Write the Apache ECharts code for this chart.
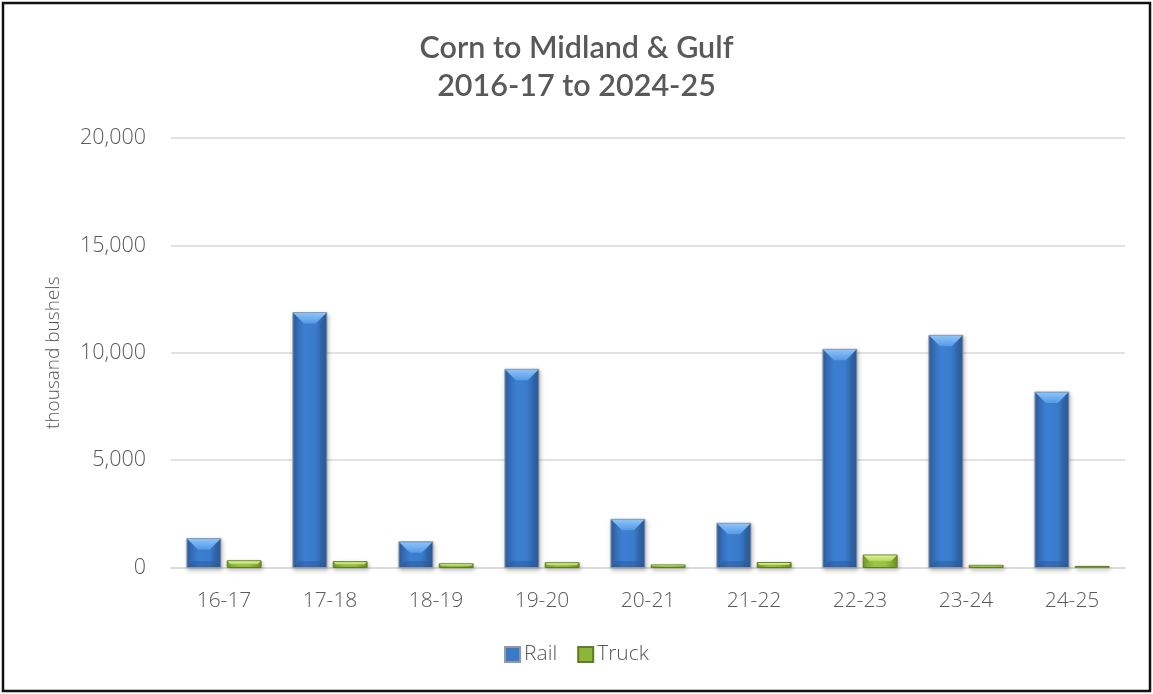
<!DOCTYPE html>
<html>
<head>
<meta charset="utf-8">
<title>Corn to Midland &amp; Gulf</title>
<script src="https://cdn.jsdelivr.net/npm/echarts@6/dist/echarts.min.js"></script>
<style>
  html, body { margin: 0; padding: 0; background: #fff; }
  #chart { width: 1153px; height: 694px; }
</style>
</head>
<body>
<div id="chart"></div>
<script>
// Marketing years and shipments (thousand bushels)
const years = ['16-17', '17-18', '18-19', '19-20', '20-21', '21-22', '22-23', '23-24', '24-25'];
const rail  = [1350, 11870, 1200, 9230, 2245, 2060, 10160, 10810, 8170];
const truck = [310, 270, 170, 220, 120, 230, 580, 100, 50];
const yTicks = [0, 5000, 10000, 15000, 20000];

const FONT = '"Open Sans", Lato, sans-serif';
const TITLE_FONT = 'Lato, "Open Sans", sans-serif';
const TEXT = '#595959';

// Bevelled bar palettes
const palettes = {
  Rail: {
    legend: '#3A78C8',
    body: ['#2E60A2', '#3C7FD2', '#3A7BCC', '#2B5892'],
    top: ['#8CC4FA', '#5598E2'],
    side: '#2D5C9A',
    bottom: '#254E86',
    border: '#8E99A6'
  },
  Truck: {
    legend: '#8DB53A',
    body: ['#7AA02E', '#9EC646', '#9AC242', '#70942A'],
    top: ['#DDF296', '#B2D658'],
    side: '#7A9E30',
    bottom: '#678A24',
    border: '#5F7D22'
  }
};

function bevelBar(name, offsetFrac) {
  const pal = palettes[name];
  return function (params, api) {
    const idx = api.value(0);
    const val = api.value(1);
    const band = api.size([1, 0])[0];
    const w = band * 0.32;
    const base = api.coord([idx, 0]);
    const topPt = api.coord([idx, val]);
    const cx = base[0] + band * offsetFrac;
    const x0 = cx - w / 2, x1 = cx + w / 2;
    const y0 = topPt[1], y1 = base[1];
    const h = y1 - y0;
    const d = Math.max(0.8, Math.min(11, h / 2, w / 2));
    const children = [
      {
        type: 'rect',
        shape: { x: x0, y: y0, width: w, height: h },
        style: {
          fill: new echarts.graphic.LinearGradient(0, 0, 1, 0, [
            { offset: 0, color: pal.body[0] },
            { offset: 0.35, color: pal.body[1] },
            { offset: 0.65, color: pal.body[2] },
            { offset: 1, color: pal.body[3] }
          ]),
          stroke: pal.border,
          lineWidth: 1,
          shadowBlur: 4,
          shadowOffsetX: 1,
          shadowOffsetY: 2,
          shadowColor: 'rgba(0,0,0,0.25)'
        }
      },
      {
        type: 'polygon',
        shape: { points: [[x0 + 0.5, y0 + 0.5], [x1 - 0.5, y0 + 0.5], [x1 - d, y0 + d], [x0 + d, y0 + d]] },
        style: {
          fill: new echarts.graphic.LinearGradient(0, 0, 0, 1, [
            { offset: 0, color: pal.top[0] },
            { offset: 1, color: pal.top[1] }
          ])
        }
      }
    ];
    if (h > 2 * d + 2) {
      const dd = d * 0.6;
      children.push({
        type: 'polygon',
        shape: { points: [[x0 + 0.5, y1 - 0.5], [x1 - 0.5, y1 - 0.5], [x1 - dd, y1 - dd], [x0 + dd, y1 - dd]] },
        style: { fill: pal.bottom, opacity: 0.35 }
      });
      children.push({
        type: 'polygon',
        shape: { points: [[x1 - 0.5, y0 + 0.5], [x1 - 0.5, y1 - 0.5], [x1 - dd, y1 - dd], [x1 - dd, y0 + d]] },
        style: { fill: pal.side, opacity: 0.4 }
      });
    }
    return { type: 'group', children: children };
  };
}

function series(name, values, offsetFrac) {
  return {
    name: name,
    type: 'custom',
    renderItem: bevelBar(name, offsetFrac),
    itemStyle: { color: palettes[name].legend, borderColor: palettes[name].border, borderWidth: 1 },
    encode: { x: 0, y: 1 },
    data: values.map((v, i) => [i, v])
  };
}

const chart = echarts.init(document.getElementById('chart'), null, { renderer: 'canvas' });
chart.setOption({
  backgroundColor: '#fff',
  animation: false,
  title: {
    text: 'Corn to Midland & Gulf\n2016-17 to 2024-25',
    left: 'center',
    top: 24,
    textStyle: { fontFamily: TITLE_FONT, fontSize: 30.5, fontWeight: 600, color: TEXT, lineHeight: 38 }
  },
  graphic: [{
    type: 'rect',
    shape: { x: 3, y: 3, width: 1147, height: 688 },
    style: { fill: 'none', stroke: '#111', lineWidth: 2.5 },
    z: 100
  }],
  legend: {
    bottom: 24,
    left: 'center',
    itemWidth: 15,
    itemHeight: 15,
    itemGap: 20,
    icon: 'rect',
    textStyle: { fontFamily: FONT, fontSize: 21, fontWeight: 300, color: TEXT, padding: [0, 0, 0, -1] },
    data: ['Rail', 'Truck']
  },
  grid: { left: 171, right: 28, top: 138, bottom: 126.5, containLabel: false },
  xAxis: {
    type: 'category',
    data: years,
    axisLine: { lineStyle: { color: '#D9D9D9', width: 1.5 } },
    axisTick: { show: false },
    axisLabel: { fontFamily: FONT, fontSize: 21, fontWeight: 300, color: TEXT, margin: 23 }
  },
  yAxis: {
    type: 'value',
    min: yTicks[0],
    max: yTicks[yTicks.length - 1],
    interval: yTicks[1] - yTicks[0],
    name: 'thousand bushels',
    nameLocation: 'middle',
    nameGap: 108,
    nameTextStyle: { fontFamily: FONT, fontSize: 19, fontWeight: 300, color: TEXT },
    axisLine: { show: false },
    axisTick: { show: false },
    splitLine: { lineStyle: { color: '#D9D9D9', width: 1.5 } },
    axisLabel: {
      fontFamily: FONT, fontSize: 21.5, fontWeight: 300, color: TEXT, margin: 25,
      formatter: v => v.toLocaleString('en-US')
    }
  },
  series: [
    series('Rail', rail, -0.19),
    series('Truck', truck, 0.19)
  ]
});
</script>
</body>
</html>
